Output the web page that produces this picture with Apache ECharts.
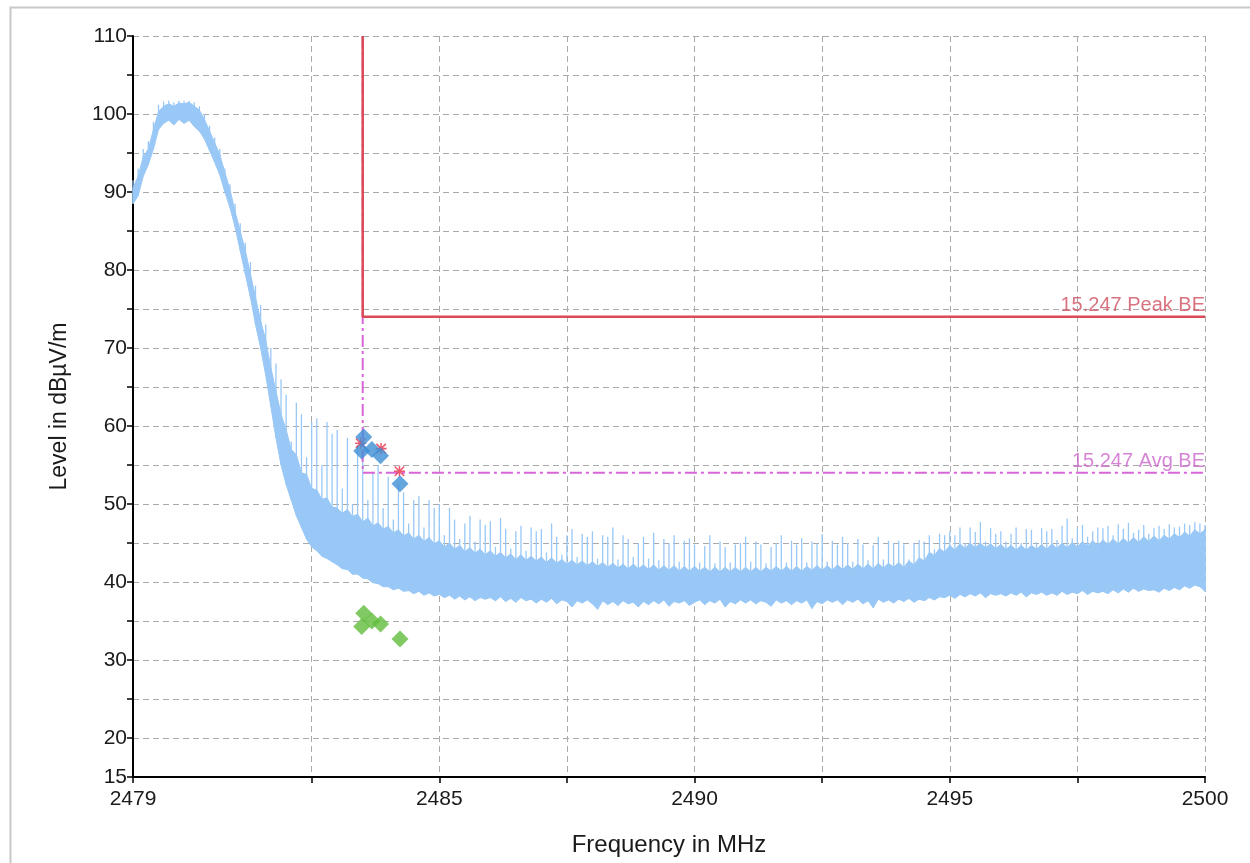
<!DOCTYPE html>
<html>
<head>
<meta charset="utf-8">
<script src="https://cdn.jsdelivr.net/npm/echarts@6/dist/echarts.min.js"></script>
<style>
html,body{margin:0;padding:0;background:#fff;}
#chart{width:1250px;height:863px;}
</style>
</head>
<body>
<div id="chart"></div>
<script>
// ---- data ----
const F_START = 2479, F_STEP = 0.1; // sampling grid of the trace (2479.0 ... 2500.0)
const traceLow = [
 88.5,89.5,92,93.5,95.5,98,98.8,99.2,98.6,99.3,
 98.8,99.2,98.4,97.8,96.8,95.3,93.8,92.2,90,88,
 85.5,82.5,79.5,76.5,73,70,66.5,62.5,58.5,55,
 52.5,50.5,48.5,47,45.5,44.5,44,43.3,43,42.6,
 42.2,41.7,41.6,41,41,40.5,40.4,39.9,39.8,39.4,
 39.4,39,39.2,38.8,38.9,38.5,38.8,38.3,38.6,38.2,
 38.4,38,38.3,37.8,38.2,37.7,38.1,37.6,38,37.8,
 38,37.6,38.1,37.5,37.9,37.4,38,37.6,37.8,37.3,
 37.8,37.4,37.9,37.2,37.7,37.5,36.8,37.6,37.3,37.7,
 37.2,36.5,37.6,37.1,37.5,37,37.6,37.2,37.4,36.8,
 37.5,37.1,37.6,37.2,37.7,36.9,37.5,37.3,37.6,37,
 37.4,37.7,37.1,37.6,37.3,37.8,36.8,37.5,37.2,37.7,
 37.3,37.7,37.2,37.6,37.4,36.9,37.7,37.3,37.6,37.1,
 37.6,37.3,37.7,36.6,37.5,37.2,37.7,37.4,37.7,37.1,
 37.7,37.4,37.8,37.2,37.6,36.7,37.8,37.4,37.7,37.3,
 37.8,37.5,37.9,37.4,37.8,37.6,38,37.7,38.1,38,
 38.3,37.9,38.4,38.1,38.5,38.2,38.6,38,38.5,38.3,
 38.5,38.2,38.6,38.3,38.7,38.1,38.6,38.4,38.7,38.3,
 38.6,38.3,38.8,38.4,38.7,38.5,38.9,38.4,38.8,38.6,
 38.8,38.5,39,38.6,39.1,38.7,39.2,38.8,39.1,38.9,
 39,38.7,39.2,38.9,39.3,39,39.5,39.2,39.6,39.4,
 38.8
];
const traceTop = [
 90.5,92,94.5,95.5,98,100.3,101,101.3,101,101.4,
 101.3,101.5,101,100.5,99.3,97.8,96.3,94.8,92.5,90.3,
 87.5,85,82.5,79.5,76.5,73.5,71,67.5,64.5,61.5,
 59.5,57,56.3,54,53.8,52,51.8,50.6,50.8,49.6,
 49.5,48.8,49.3,48.4,48.7,47.7,48.2,47.2,47.6,46.8,
 47.1,46.3,46.7,45.9,46.3,45.5,46,45.2,45.7,44.9,
 45.3,44.5,45,44.2,44.7,43.9,44.4,43.7,44.2,43.5,
 44,43.3,43.8,43.1,43.6,42.9,43.5,42.8,43.3,42.7,
 43.2,42.5,43.1,42.4,42.9,42.3,42.8,42.2,42.7,42.1,
 42.6,42,42.5,41.9,42.4,41.8,42.3,41.7,42.3,41.7,
 42.2,41.6,42.2,41.5,42.1,41.5,42.1,41.4,42,41.4,
 42,41.4,41.9,41.3,41.9,41.3,41.9,41.3,41.9,41.3,
 41.9,41.3,41.9,41.3,41.9,41.4,42,41.4,42,41.4,
 42,41.4,42,41.5,42.1,41.5,42.1,41.5,42.2,41.6,
 42.2,41.6,42.3,41.7,42.3,41.7,42.4,41.8,42.4,41.9,
 42.5,41.9,42.7,42.2,43.1,42.7,43.8,43.4,44.3,43.8,
 44.7,44.1,44.9,44.3,45,44.4,45,44.4,44.9,44.3,
 44.8,44.2,44.7,44.1,44.7,44.1,44.7,44.2,44.8,44.2,
 44.9,44.3,45,44.4,45.1,44.5,45.2,44.6,45.3,44.7,
 45.4,44.8,45.5,44.9,45.6,45,45.7,45.1,45.8,45.2,
 45.9,45.3,46,45.5,46.2,45.7,46.4,45.9,46.7,46.2,
 46.7
];
const tracePeak = [
 91.5,93,95.5,96.5,99,101.2,101.6,101.7,101.5,101.7,
 101.7,101.7,101.5,101,100,98.5,97,95.5,93,91,
 88.5,86,83.5,81,78,75.5,73,70,68,66,
 64,58,63,61.5,56,60.5,61,55,60.5,59,
 59.5,52,58.5,50,57.5,55.5,50.5,54,55,49.5,
 53.5,48,52.5,51.5,47.5,50.5,51,47,50.5,49.5,
 50,46,49.5,48,45.5,47.5,48.5,45.2,48,47.3,
 47.8,44.5,48.2,46.8,44.3,46.5,47.2,44,47,46.5,
 46.8,43.8,47.5,45.8,43.5,46,46.8,43.2,46.2,45.8,
 46.5,43,46,45.8,47,42.9,46,45.5,43.2,45,
 45.8,43,46.3,42.8,45.5,45,46,42.6,45.3,45.6,
 44.8,42.5,44.6,46,42.4,45.2,44.5,42.5,44.8,45,
 45.8,42.6,45.2,44.8,42.4,44.5,45,46,42.5,45.3,
 44.8,45.6,42.5,45.2,44.9,46.2,42.6,45.3,44.8,45.8,
 45,42.6,45.5,44.8,42.8,44.7,45.8,42.9,45.3,45,
 45.3,44.8,42.9,45,45.4,45.2,46,44.2,46.2,46,
 46.5,46,47,45,47,46.4,47.7,45.2,46.9,46.2,
 46.5,45.2,46.2,47,45,46.8,46.7,45.1,46.9,46.5,
 46.8,45.4,47.2,48.1,45.6,47,47.3,45.8,46.5,47,
 46.9,47.2,46,47.4,46.8,47.6,46.3,46.7,47.3,46.2,
 46.9,47.2,46.8,47.4,47,47.1,47.5,47.3,47.7,47.5,
 47.3
];
// limit lines: [frequency, level]
const peakLimit = [[2483.5, 110], [2483.5, 74], [2500, 74]];
const avgLimit  = [[2483.5, 110], [2483.5, 54], [2500, 54]];
const peakLimitLabel = '15.247 Peak BE';
const avgLimitLabel  = '15.247 Avg BE';
// final measurement markers
const peakMarkers = [[2483.52, 58.6], [2483.48, 56.8], [2483.68, 57.0], [2483.85, 56.2], [2484.23, 52.6]];
const avgMarkers  = [[2483.52, 36.0], [2483.48, 34.3], [2483.68, 35.0], [2483.85, 34.6], [2484.23, 32.7]];
const critMarkers = [[2483.46, 57.8], [2483.86, 57.1], [2484.22, 54.2]];
// axes
const xTickValues  = [2479, 2482.5, 2485, 2487.5, 2490, 2492.5, 2495, 2497.5, 2500];
const xLabelValues = [2479, 2485, 2490, 2495, 2500];
const yLabelValues = [15, 20, 30, 40, 50, 60, 70, 80, 90, 100, 110];

// ---- chart ----
const FONT = '"Liberation Sans", Arial, sans-serif';
const TRACE = '#99c8f7';
const freqs = traceLow.map((_, i) => +(F_START + i * F_STEP).toFixed(1));

const chart = echarts.init(document.getElementById('chart'), null, {renderer: 'canvas'});

function limitLabel(point, text, color) {
  return {
    type: 'scatter', z: 8, silent: true, symbol: 'rect', symbolSize: 1,
    itemStyle: {color: 'rgba(255,255,255,0)'},
    clip: false,
    label: {show: true, formatter: text, position: 'top', align: 'right',
            distance: 1, fontFamily: FONT, fontSize: 20, color: color},
    data: [point]
  };
}

const option = {
  animation: false,
  backgroundColor: '#ffffff',
  graphic: [{
    type: 'rect', left: 8, top: 5, silent: true, z: -10,
    shape: {width: 1300, height: 900},
    style: {fill: null, stroke: '#c8c8c8', lineWidth: 2}
  }],
  grid: {left: 133, right: 45, top: 36, bottom: 86, containLabel: false},
  xAxis: {
    type: 'value', min: 2479, max: 2500,
    name: 'Frequency in MHz', nameLocation: 'middle', nameGap: 56,
    nameTextStyle: {fontFamily: FONT, fontSize: 24, color: '#1a1a1a'},
    axisLine: {show: true, onZero: false, lineStyle: {color: '#000', width: 2}},
    axisTick: {show: true, length: 6, customValues: xTickValues, lineStyle: {color: '#000', width: 1.5}},
    axisLabel: {customValues: xLabelValues, margin: 12, fontFamily: FONT, fontSize: 21, color: '#1a1a1a',
                formatter: v => String(v)},
    splitLine: {show: true, lineStyle: {color: '#aaaaaa', type: [6, 4], width: 1}}
  },
  yAxis: {
    type: 'value', min: 15, max: 110, interval: 5,
    name: 'Level in dBµV/m', nameLocation: 'middle', nameGap: 62, nameRotate: 90,
    nameTextStyle: {fontFamily: FONT, fontSize: 23, color: '#1a1a1a'},
    axisLine: {show: true, onZero: false, lineStyle: {color: '#000', width: 2}},
    axisTick: {show: true, length: 6, lineStyle: {color: '#000', width: 1.5}},
    axisLabel: {
      margin: 6, fontFamily: FONT, fontSize: 21, color: '#1a1a1a',
      formatter: v => (yLabelValues.indexOf(v) >= 0 ? String(v) : '')
    },
    splitLine: {show: true, lineStyle: {color: '#aaaaaa', type: [6, 4], width: 1}}
  },
  series: [
    {
      // dense band of the trace (between low and top envelopes)
      type: 'custom', name: 'band', silent: true, z: 2,
      data: [[freqs[0], traceLow[0]]],
      renderItem: function (params, api) {
        const pts = [];
        for (let i = 0; i < freqs.length; i++) pts.push(api.coord([freqs[i], traceLow[i]]));
        for (let i = freqs.length - 1; i >= 0; i--) pts.push(api.coord([freqs[i], traceTop[i]]));
        return {type: 'polygon', shape: {points: pts}, style: {fill: TRACE, stroke: TRACE, lineWidth: 1}};
      }
    },
    {
      // individual spikes of the trace
      type: 'custom', name: 'spikes', silent: true, z: 2,
      data: freqs.map((f, i) => [f, traceLow[i], tracePeak[i]]),
      encode: {x: 0, y: [1, 2]},
      renderItem: function (params, api) {
        const a = api.coord([api.value(0), api.value(1)]);
        const b = api.coord([api.value(0), api.value(2)]);
        return {type: 'line', shape: {x1: a[0], y1: a[1], x2: b[0], y2: b[1]},
                style: {stroke: TRACE, lineWidth: 1.3}};
      }
    },
    {
      type: 'line', name: 'avgLimit', z: 4, symbol: 'none', silent: true,
      lineStyle: {color: '#d966d9', width: 2, type: [12, 4, 3, 4]},
      data: avgLimit
    },
    {
      type: 'line', name: 'peakLimit', z: 5, symbol: 'none', silent: true,
      lineStyle: {color: '#dc4a58', width: 2.5},
      data: peakLimit
    },
    limitLabel(peakLimit[peakLimit.length - 1], peakLimitLabel, '#cf5060'),
    limitLabel(avgLimit[avgLimit.length - 1], avgLimitLabel, '#cc66cc'),
    {
      type: 'scatter', name: 'crit', z: 6, silent: true,
      symbol: 'path://M4.3,0h1.4v10h-1.4z M0,4.3h10v1.4h-10z M1.2,0.2L9.8,8.8L8.8,9.8L0.2,1.2z M8.8,0.2L9.8,1.2L1.2,9.8L0.2,8.8z',
      symbolSize: 11, itemStyle: {color: '#e8304a'},
      data: critMarkers
    },
    {
      type: 'scatter', name: 'peak', z: 7, silent: true,
      symbol: 'diamond', symbolSize: 17, itemStyle: {color: '#3d8ed6'},
      data: peakMarkers
    },
    {
      type: 'scatter', name: 'avg', z: 7, silent: true,
      symbol: 'diamond', symbolSize: 17, itemStyle: {color: '#62bd3c'},
      data: avgMarkers
    }
  ]
};
chart.setOption(option);
</script>
</body>
</html>
